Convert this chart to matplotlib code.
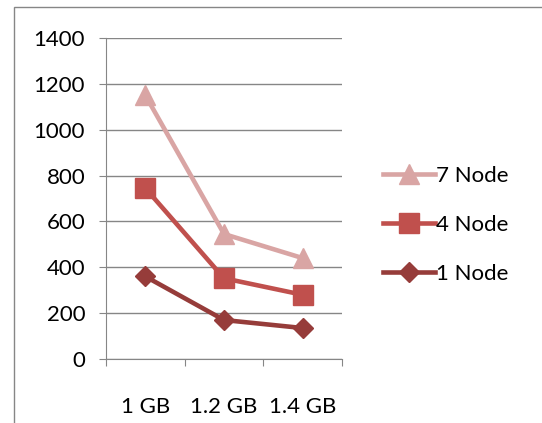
import matplotlib
matplotlib.use("Agg")
import matplotlib.pyplot as plt
from matplotlib.patches import Rectangle

# data
categories = ["1 GB", "1.2 GB", "1.4 GB"]
node7 = [1150, 545, 440]
node4 = [745, 352, 280]
node1 = [360, 170, 135]

plt.rcParams['font.family'] = ['Lato', 'DejaVu Sans']

fig = plt.figure(figsize=(5.42, 4.23), dpi=100)
ax = fig.add_axes([0.1956, 0.1513, 0.4354, 0.7589])

x = [0.5, 1.5, 2.5]
ax.plot(x, node7, color='#D9A5A4', lw=3.3, marker='^', ms=15, label='7 Node')
ax.plot(x, node4, color='#C0504D', lw=3.3, marker='s', ms=15, label='4 Node')
ax.plot(x, node1, color='#963C3A', lw=3.3, marker='D', ms=10, label='1 Node')

ax.set_xlim(0, 3)
ax.set_ylim(0, 1400)
ax.set_yticks(range(0, 1401, 200))
ax.yaxis.grid(True, color='#868686', lw=1)
ax.set_axisbelow(True)
ax.set_xticks([0, 1, 2, 3])
ax.set_xticklabels([])
ax.set_xticks(x, minor=True)
ax.set_xticklabels(categories, minor=True)
ax.tick_params(axis='x', which='minor', length=0, pad=27, labelsize=16)
ax.tick_params(axis='x', which='major', length=5, color='#868686', direction='out')
ax.tick_params(axis='y', length=5, color='#868686', labelsize=16, pad=10)
for s in ['top', 'right']:
    ax.spines[s].set_visible(False)
for s in ['left', 'bottom']:
    ax.spines[s].set_color('#868686')

ax.legend(loc='center left', bbox_to_anchor=(383 / 542, 1 - 225 / 423),
          bbox_transform=fig.transFigure, borderaxespad=0, borderpad=0,
          frameon=False, fontsize=16, handlelength=2.35, handletextpad=0.05,
          labelspacing=1.3)

# chart border
fig.patches.append(Rectangle((14 / 542, -0.1), 1.2, 1.1 - 7 / 423,
                             transform=fig.transFigure, fill=False,
                             edgecolor='#868686', lw=1))

fig.savefig('out.png', dpi=100)
